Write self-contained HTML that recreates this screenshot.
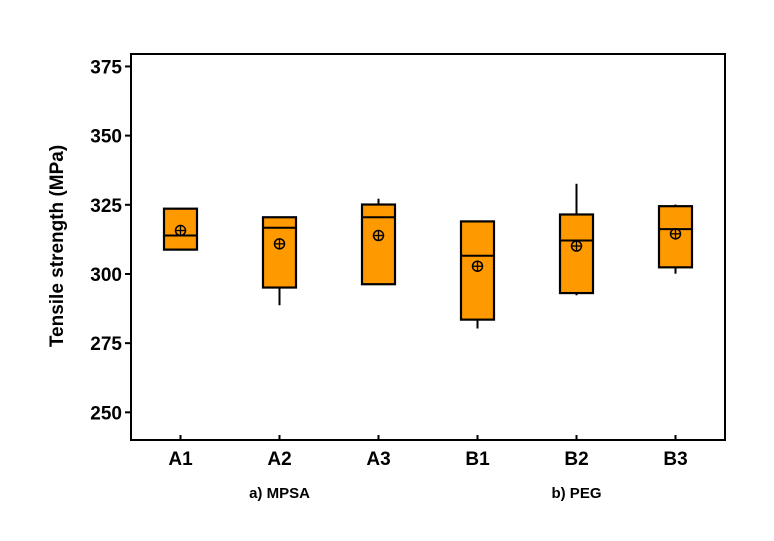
<!DOCTYPE html>
<html><head><meta charset="utf-8"><style>
body{margin:0;background:#fff}
svg text{font-family:"Liberation Sans",Arial,sans-serif;font-weight:bold;fill:#000}
</style></head><body>
<svg id="chart" width="774" height="536" viewBox="0 0 774 536">
<g id="plot"></g>
</svg>
<script>
const categories=["A1","A2","A3","B1","B2","B3"];
const whiskerLow=[308.8,288.7,296.3,280.3,292.3,300.1];
const q1=[308.8,295.1,296.3,283.5,293.1,302.4];
const median=[313.9,316.7,320.5,306.6,312.1,316.2];
const q3=[323.6,320.5,325.1,319.0,321.5,324.5];
const whiskerHigh=[323.6,320.5,327.2,319.0,332.6,325.1];
const means=[315.7,310.9,313.9,302.8,310.1,314.5];
const yTicks=[250,275,300,325,350,375];
const groupLabels=["a) MPSA","b) PEG"];
const groupCenters=[1,4];

const L=131,R=725,T=54,B=440,yMin=240,yMax=379.5;
const step=(R-L)/categories.length;
const x=i=>L+(i+0.5)*step;
const y=v=>B-(v-yMin)/(yMax-yMin)*(B-T);
const NS="http://www.w3.org/2000/svg";
const g=document.getElementById('plot');
function mk(t,a,parent){const e=document.createElementNS(NS,t);for(const k in a)e.setAttribute(k,a[k]);(parent||g).appendChild(e);return e;}

const frame=mk('rect',{x:L,y:T,width:R-L,height:B-T,fill:'none',stroke:'#000','stroke-width':2});



yTicks.forEach(v=>{
  const t=mk('line',{x1:L-6,x2:L,y1:y(v),y2:y(v),stroke:'#000','stroke-width':2});
  
  
  const lb=mk('text',{x:L-9,y:y(v)+7,'text-anchor':'end','font-size':19});
  lb.textContent=v;
  
  
});

categories.forEach((c,i)=>{
  const cx=x(i),w=33;
  const t=mk('line',{x1:cx,x2:cx,y1:B,y2:B-5,stroke:'#000','stroke-width':2});
  
  
  const lb=mk('text',{x:cx,y:465,'text-anchor':'middle','font-size':19});
  lb.textContent=c;
  
  
  const grp=mk('g',{});
  
  
  mk('line',{x1:cx,x2:cx,y1:y(whiskerHigh[i]),y2:y(q3[i]),stroke:'#000','stroke-width':2},grp);
  mk('line',{x1:cx,x2:cx,y1:y(q1[i]),y2:y(whiskerLow[i]),stroke:'#000','stroke-width':2},grp);
  mk('rect',{x:cx-w/2,y:y(q3[i]),width:w,height:y(q1[i])-y(q3[i]),fill:'#ff9900',stroke:'#000','stroke-width':2.2},grp);
  mk('line',{x1:cx-w/2,x2:cx+w/2,y1:y(median[i]),y2:y(median[i]),stroke:'#000','stroke-width':2},grp);
  const my=y(means[i]);
  mk('circle',{cx:cx,cy:my,r:5,fill:'none',stroke:'#000','stroke-width':1.5},grp);
  mk('line',{x1:cx-5,x2:cx+5,y1:my,y2:my,stroke:'#000','stroke-width':1.3},grp);
  mk('line',{x1:cx,x2:cx,y1:my-5,y2:my+5,stroke:'#000','stroke-width':1.3},grp);
});

groupLabels.forEach((s,k)=>{
  const lb=mk('text',{x:x(groupCenters[k]),y:498,'text-anchor':'middle','font-size':15});
  lb.textContent=s;
  
  
});

const yt=mk('text',{x:0,y:0,'text-anchor':'middle','font-size':19,transform:'translate(63,246) rotate(-90)'});
yt.textContent='Tensile strength (MPa)';


</script>
</body></html>
